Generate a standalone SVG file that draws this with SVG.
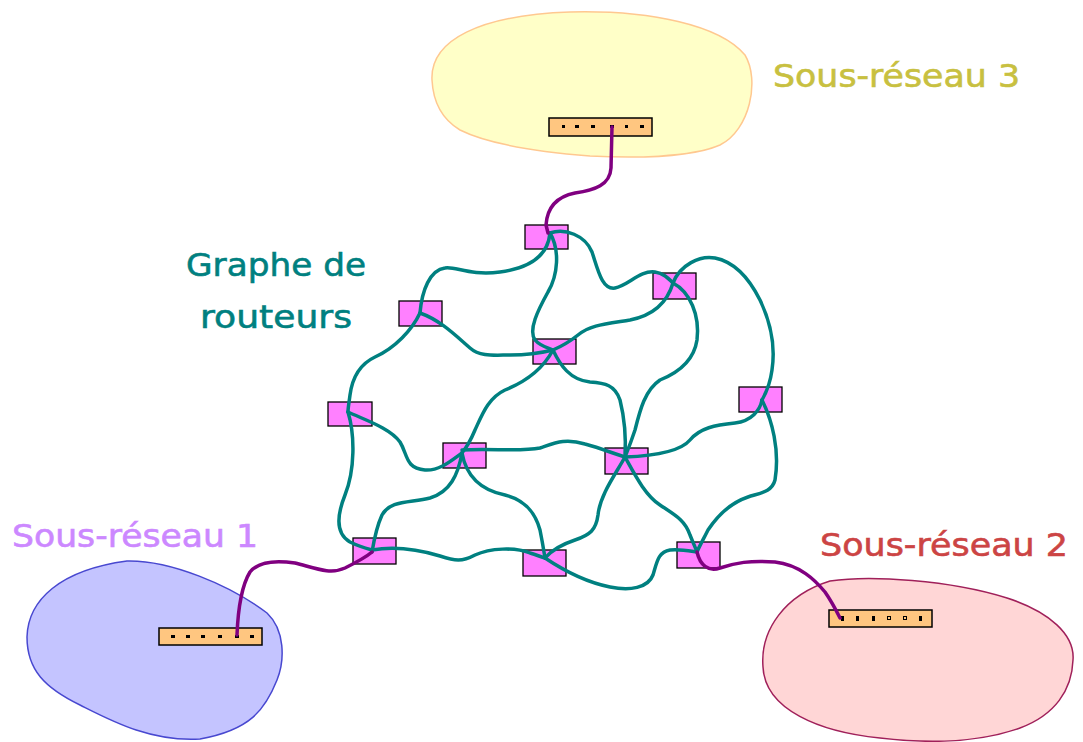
<svg xmlns="http://www.w3.org/2000/svg" width="1083" height="742" viewBox="0 0 1083 742">
<style>
.lbl{font-family:"DejaVu Sans","Liberation Sans",sans-serif;font-size:32px;stroke-width:0.6}
.rt{fill:#ff80ff;stroke:#000;stroke-width:1.3}
.bar{fill:#ffc680;stroke:#000;stroke-width:1.5}
.dot{fill:#000}
.net{fill:none;stroke:#008080;stroke-width:3.5;stroke-linecap:round;stroke-linejoin:round}
.lnk{fill:none;stroke:#800080;stroke-width:3.5;stroke-linecap:round;stroke-linejoin:round}
</style>
<rect width="1083" height="742" fill="#fff"/>

<g id="subnet3">
<path d="M432,80 C430,40 480,15 570,12 C650,10 720,25 745,55 C760,80 750,130 720,145 C690,158 630,158 590,156 C540,152 490,145 460,130 C440,118 433,100 432,80 Z" fill="#ffffc8" stroke="#ffc890" stroke-width="1.5"/>
<rect class="bar" x="549" y="118" width="103" height="18"/>
<g class="dot"><rect x="562" y="125" width="3" height="3"/><rect x="575" y="125" width="4" height="3"/><rect x="591" y="125" width="4" height="3"/><rect x="610" y="125" width="4" height="3"/><rect x="625" y="125" width="3" height="3"/><rect x="640" y="125" width="4" height="3"/></g>
<text class="lbl" x="773" y="87" fill="#c8c040" stroke="#c8c040" textLength="247" lengthAdjust="spacingAndGlyphs">Sous-réseau 3</text>
</g>

<g id="subnet1">
<path d="M27,637 C28,600 60,570 127,561 C170,560 230,585 267,613 C285,630 285,660 277,680 C265,710 250,730 200,739 C150,742 110,720 80,705 C45,688 27,670 27,637 Z" fill="#c4c4ff" stroke="#4848d0" stroke-width="1.5"/>
<rect class="bar" x="159" y="628" width="103" height="17"/>
<g class="dot"><rect x="171" y="635" width="4" height="3"/><rect x="186" y="635" width="4" height="3"/><rect x="201" y="635" width="4" height="3"/><rect x="218" y="635" width="4" height="3"/><rect x="235" y="635" width="4" height="3"/><rect x="250" y="635" width="4" height="3"/></g>
<text class="lbl" x="12" y="547" fill="#cc88ff" stroke="#cc88ff" textLength="246" lengthAdjust="spacingAndGlyphs">Sous-réseau 1</text>
</g>

<g id="subnet2">
<path d="M763,667 C760,630 785,595 830,581 C870,575 950,580 1007,598 C1050,612 1075,635 1073,660 C1072,690 1055,715 1020,728 C980,742 930,744 880,738 C820,732 765,710 763,667 Z" fill="#ffd6d6" stroke="#a0205a" stroke-width="1.5"/>
<rect class="bar" x="829" y="610" width="103" height="17"/>
<g class="dot"><rect x="841" y="616" width="3" height="5"/><rect x="856" y="616" width="3" height="5"/><rect x="872" y="616" width="3" height="5"/><rect x="887.5" y="616.5" width="3" height="3" fill="#ffc680" stroke="#000" stroke-width="1"/><rect x="903.5" y="616.5" width="3" height="3" fill="#ffc680" stroke="#000" stroke-width="1"/><rect x="919" y="616" width="3" height="5"/></g>
<text class="lbl" x="820" y="556" fill="#cc4444" stroke="#cc4444" textLength="248" lengthAdjust="spacingAndGlyphs">Sous-réseau 2</text>
</g>

<g id="label-graphe">
<text class="lbl" x="186" y="276" fill="#008080" stroke="#008080" textLength="180" lengthAdjust="spacingAndGlyphs">Graphe de</text>
<text class="lbl" x="200" y="328" fill="#008080" stroke="#008080" textLength="152" lengthAdjust="spacingAndGlyphs">routeurs</text>
</g>

<g id="r-top"><rect class="rt" x="525" y="225" width="43" height="24"/></g>
<g id="r-ul"><rect class="rt" x="399" y="301" width="43" height="25"/></g>
<g id="r-ur"><rect class="rt" x="653" y="273" width="43" height="26"/></g>
<g id="r-c"><rect class="rt" x="533" y="339" width="43" height="25"/></g>
<g id="r-l"><rect class="rt" x="328" y="402" width="44" height="24"/></g>
<g id="r-r"><rect class="rt" x="739" y="387" width="43" height="25"/></g>
<g id="r-m1"><rect class="rt" x="443" y="443" width="43" height="25"/></g>
<g id="r-m2"><rect class="rt" x="605" y="448" width="43" height="26"/></g>
<g id="r-bl"><rect class="rt" x="353" y="538" width="43" height="26"/></g>
<g id="r-bm"><rect class="rt" x="523" y="550" width="43" height="26"/></g>
<g id="r-br"><rect class="rt" x="677" y="542" width="43" height="26"/></g>

<g id="connectors">
<path class="net" d="M550,233 C548,255 530,268 500,272 C470,276 455,266 445,268 C430,270 422,290 420,313"/>
<path class="net" d="M550,233 C560,250 558,275 548,292 C538,310 528,330 535,340 C540,346 548,348 553,350"/>
<path class="net" d="M550,233 C565,228 585,235 592,252 C598,270 602,290 615,288 C628,286 640,270 655,272 C663,273 668,278 673,283"/>
<path class="net" d="M673,283 C690,292 700,315 697,340 C694,360 680,372 660,380 C645,390 640,410 635,430 C630,445 627,452 625,457"/>
<path class="net" d="M673,283 C680,265 700,255 715,258 C735,262 750,280 760,300 C772,325 775,350 772,370 C770,385 766,393 762,400"/>
<path class="net" d="M673,283 C668,300 655,315 630,320 C605,324 590,325 578,335 C568,343 560,347 553,350"/>
<path class="net" d="M420,313 C440,320 455,335 470,348 C480,357 495,355 510,355 C530,355 545,352 553,350"/>
<path class="net" d="M420,313 C412,330 395,348 375,357 C358,365 352,380 350,395 C349,403 348,408 348,412"/>
<path class="net" d="M553,350 C545,365 530,380 505,390 C488,398 482,415 475,430 C470,442 466,448 462,453"/>
<path class="net" d="M553,350 C560,365 570,380 590,382 C605,383 615,385 620,400 C625,420 626,440 625,457"/>
<path class="net" d="M348,412 C365,420 390,428 400,442 C408,455 405,468 425,470 C440,471 452,460 462,453"/>
<path class="net" d="M348,412 C355,435 355,470 345,495 C335,520 338,535 350,542 C358,546 365,548 372,550"/>
<path class="net" d="M372,550 C395,546 420,550 440,556 C455,561 462,562 475,555 C490,548 515,547 530,553 C537,555 541,557 545,558"/>
<path class="net" d="M545,558 C560,568 585,582 610,587 C630,591 648,588 653,575 C657,562 658,552 670,550 C680,549 690,551 697,552"/>
<path class="net" d="M462,453 C458,475 450,492 430,498 C410,503 390,500 382,515 C376,528 374,540 372,552"/>
<path class="net" d="M462,453 C466,475 480,490 505,495 C525,500 535,512 540,530 C543,545 544,552 545,558"/>
<path class="net" d="M462,450 C490,448 520,452 540,448 C555,443 565,438 585,444 C600,448 615,454 625,457"/>
<path class="net" d="M625,457 C650,456 680,452 690,440 C700,428 715,425 735,423 C752,421 760,410 762,400"/>
<path class="net" d="M625,457 C615,475 600,495 598,515 C596,530 590,535 575,540 C560,545 550,552 545,558"/>
<path class="net" d="M625,457 C635,475 645,495 660,505 C675,515 685,520 690,535 C694,545 696,549 697,552"/>
<path class="net" d="M762,400 C772,420 780,450 775,480 C772,492 760,493 748,497 C730,503 718,515 708,530 C703,540 699,547 697,552"/>
<path class="lnk" d="M612,127 L611,168 C610,185 595,190 575,193 C555,197 547,210 546,225 L548,233"/>
<path class="lnk" d="M237,635 C238,610 242,585 250,572 C258,562 275,560 295,563 C315,568 330,575 345,568 C355,563 365,558 372,552"/>
<path class="lnk" d="M697,552 C700,565 708,572 720,568 C735,563 750,560 775,562 C800,565 815,580 825,592 C832,602 837,612 840,618"/>
</g>
</svg>
